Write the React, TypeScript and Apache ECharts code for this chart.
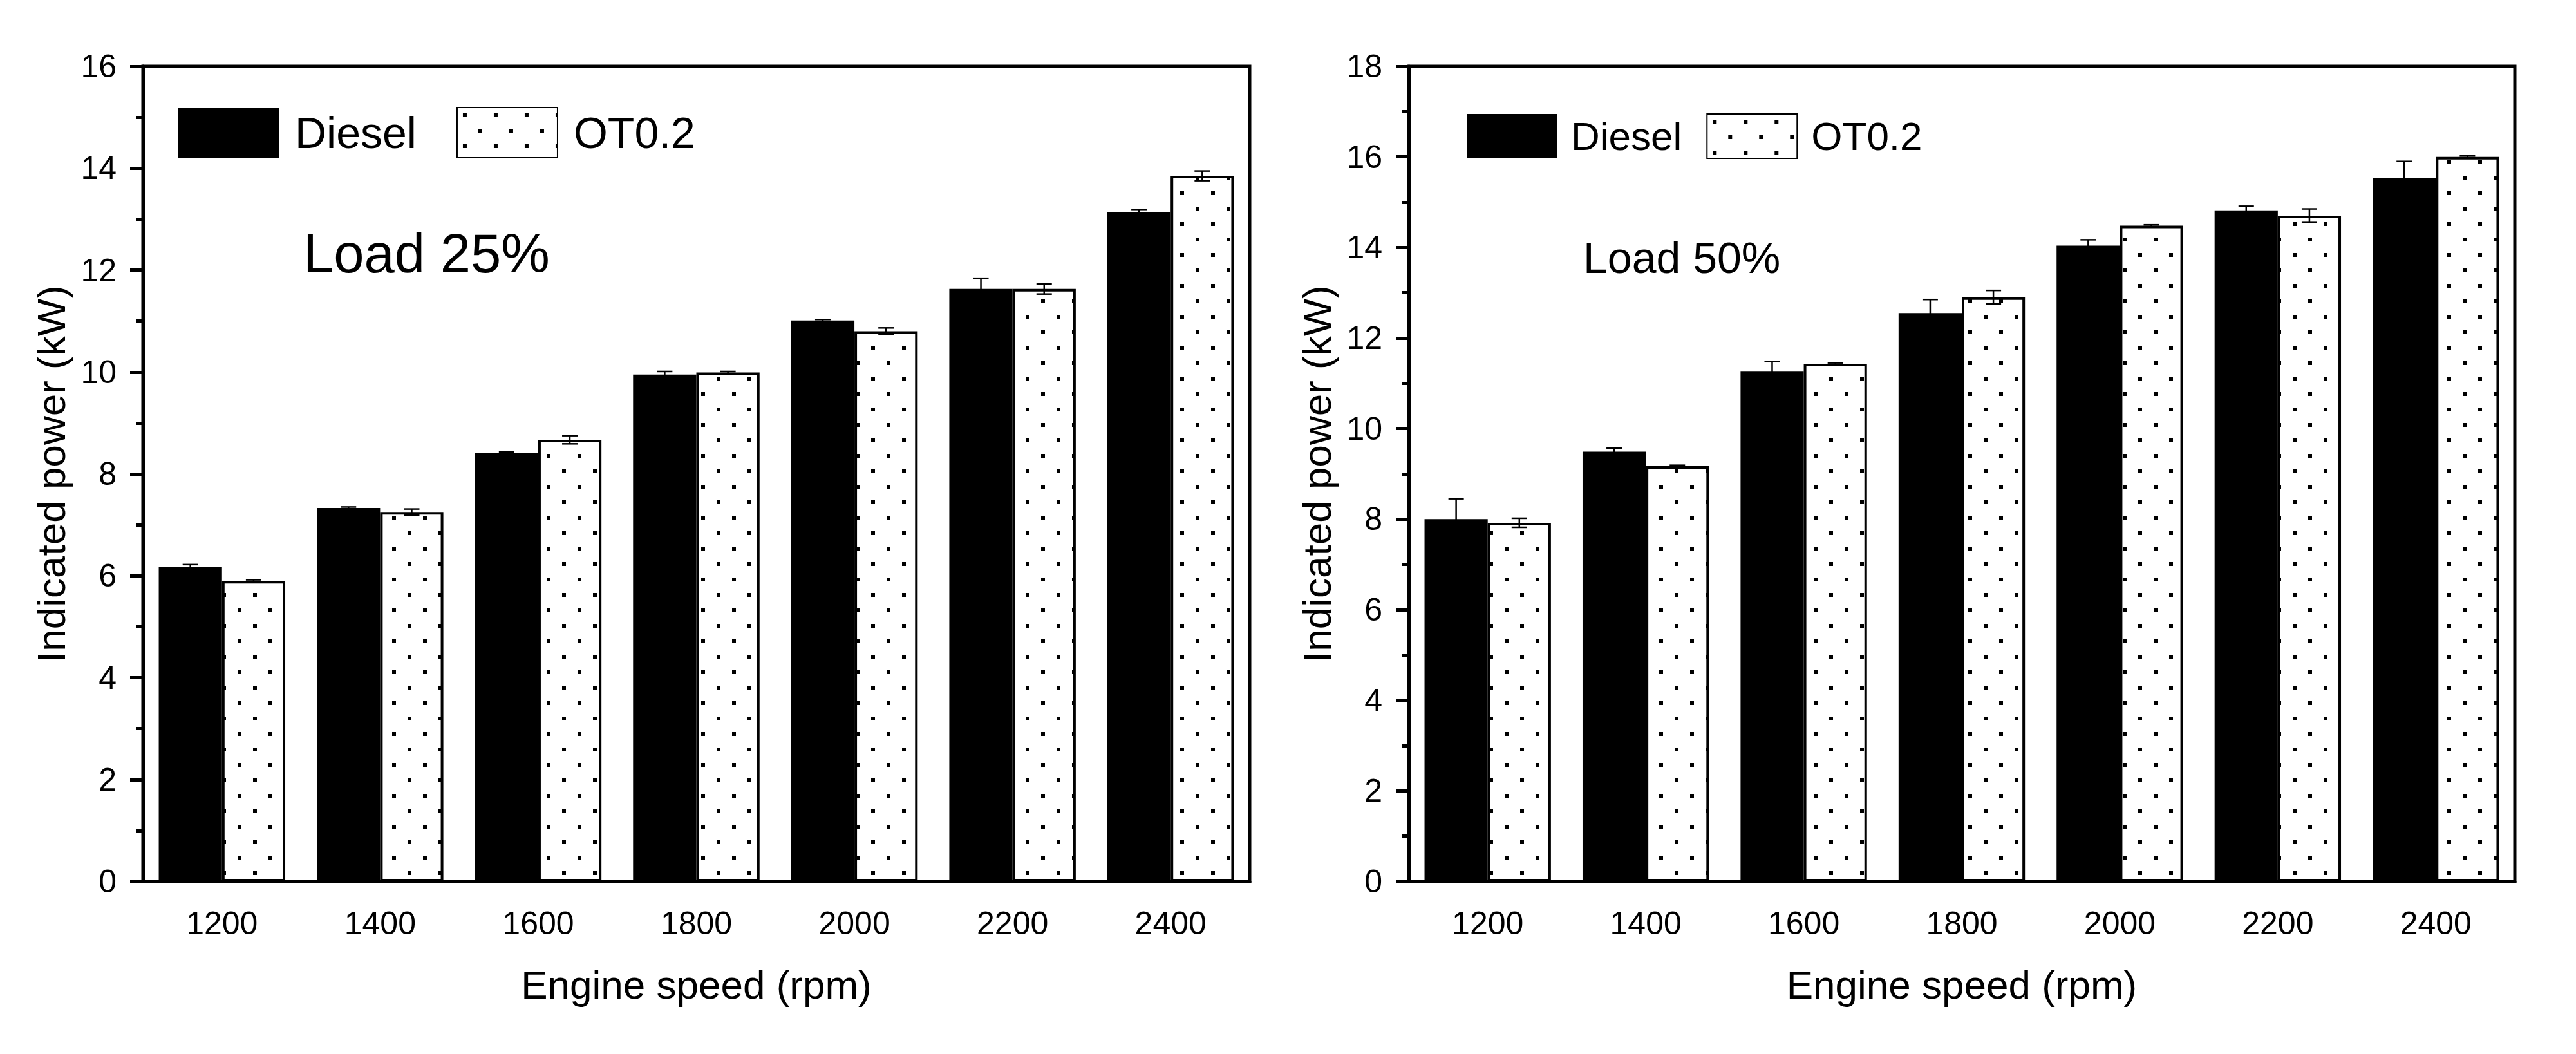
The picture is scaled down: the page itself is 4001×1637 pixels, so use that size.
import { useEffect, useRef } from 'react';
import * as echarts from 'echarts';

const categories = ['1200', '1400', '1600', '1800', '2000', '2200', '2400'];

// Load 25%
const diesel25 = [6.17, 7.33, 8.41, 9.95, 11.01, 11.63, 13.14];
const diesel25Err = [0.05, 0.02, 0.02, 0.06, 0.02, 0.21, 0.05];
const ot25 = [5.9, 7.25, 8.67, 9.99, 10.8, 11.63, 13.85];
const ot25Err = [0.02, 0.06, 0.08, 0.02, 0.065, 0.1, 0.095];

// Load 50%
const diesel50 = [8.0, 9.49, 11.27, 12.55, 14.04, 14.82, 15.53];
const diesel50Err = [0.45, 0.08, 0.21, 0.3, 0.13, 0.09, 0.37];
const ot50 = [7.92, 9.17, 11.43, 12.9, 14.48, 14.7, 16.0];
const ot50Err = [0.1, 0.02, 0.02, 0.15, 0.02, 0.15, 0.02];

const FONT = '"Liberation Sans", Arial, sans-serif';

export default function App() {
  const chartRef = useRef<HTMLDivElement>(null);

  useEffect(() => {
    if (!chartRef.current) return;
    const chart = echarts.init(chartRef.current, null, { renderer: 'svg' });

    // dotted fill like Origin's pattern
    const tile = document.createElement('canvas');
    tile.width = 48;
    tile.height = 48;
    const ctx = tile.getContext('2d')!;
    ctx.fillStyle = '#fff';
    ctx.fillRect(0, 0, 48, 48);
    ctx.fillStyle = '#000';
    ctx.fillRect(9, 9, 6, 6);
    ctx.fillRect(33, 33, 6, 6);
    const dots: any = { image: tile, repeat: 'repeat', imageWidth: 48, imageHeight: 48 };

    const errBar = (side: number) => (params: any, api: any) => {
      const idx = api.value(0);
      const v = api.value(1);
      const e = api.value(2);
      const band = api.size([1, 0])[0];
      const x = api.coord([idx, v])[0] + side * band * 0.2;
      const top = api.coord([idx, v + e])[1];
      const bot = api.coord([idx, v - e])[1];
      const st = { stroke: '#000', lineWidth: 2.5 };
      return {
        type: 'group',
        children: [
          { type: 'line', shape: { x1: x, y1: top, x2: x, y2: bot }, style: st },
          { type: 'line', shape: { x1: x - 12, y1: top, x2: x + 12, y2: top }, style: st },
          { type: 'line', shape: { x1: x - 12, y1: bot, x2: x + 12, y2: bot }, style: st },
        ],
      };
    };

    const seriesFor = (g: number, d: number[], dErr: number[], o: number[], oErr: number[]) => [
      {
        name: 'Diesel',
        type: 'bar',
        xAxisIndex: g,
        yAxisIndex: g,
        data: d,
        barWidth: '40%',
        barGap: '0%',
        itemStyle: { color: '#000' },
      },
      {
        name: 'OT0.2',
        type: 'bar',
        xAxisIndex: g,
        yAxisIndex: g,
        data: o,
        barWidth: '40%',
        barGap: '0%',
        itemStyle: { color: dots, borderColor: '#000', borderWidth: 4 },
      },
      {
        name: 'Diesel error',
        type: 'custom',
        xAxisIndex: g,
        yAxisIndex: g,
        renderItem: errBar(-1),
        data: d.map((v, i) => [i, v, dErr[i]]),
        z: 5,
      },
      {
        name: 'OT0.2 error',
        type: 'custom',
        xAxisIndex: g,
        yAxisIndex: g,
        renderItem: errBar(1),
        data: o.map((v, i) => [i, v, oErr[i]]),
        z: 5,
      },
    ];

    const xAxisFor = (g: number) => ({
      type: 'category',
      gridIndex: g,
      data: categories,
      name: 'Engine speed (rpm)',
      nameLocation: 'middle',
      nameGap: 129,
      nameTextStyle: { fontSize: 62, fontFamily: FONT, color: '#000' },
      axisLine: { lineStyle: { color: '#000', width: 5 } },
      axisTick: { alignWithLabel: true, length: 26, lineStyle: { width: 5, color: '#000' } },
      axisLabel: { fontSize: 50, fontFamily: FONT, color: '#000', margin: 40 },
      splitLine: { show: false },
    });

    const yAxisFor = (g: number, max: number) => ({
      type: 'value',
      gridIndex: g,
      min: 0,
      max,
      interval: 2,
      name: 'Indicated power (kW)',
      nameLocation: 'middle',
      nameGap: 112,
      nameTextStyle: { fontSize: 62, fontFamily: FONT, color: '#000' },
      axisLine: { show: true, lineStyle: { color: '#000', width: 5 } },
      axisTick: { show: true, length: 20, lineStyle: { width: 5, color: '#000' } },
      minorTick: { show: true, splitNumber: 2, length: 10, lineStyle: { width: 5, color: '#000' } },
      axisLabel: { fontSize: 50, fontFamily: FONT, color: '#000', margin: 41 },
      splitLine: { show: false },
    });

    const legendFor = (left: number, top: number, w: number, h: number, gap: number, fs: number, pad: number) => ({
      left,
      top,
      orient: 'horizontal',
      icon: 'rect',
      itemWidth: w,
      itemHeight: h,
      itemGap: gap,
      selectedMode: false,
      data: ['Diesel', 'OT0.2'],
      textStyle: { fontSize: fs, fontFamily: FONT, color: '#000', padding: [0, 0, 0, pad] },
    });

    chart.setOption({
      animation: false,
      backgroundColor: '#fff',
      grid: [
        { left: 222, top: 103, width: 1719, height: 1266, show: true, borderColor: '#000', borderWidth: 5 },
        { left: 2188, top: 103, width: 1718, height: 1266, show: true, borderColor: '#000', borderWidth: 5 },
      ],
      xAxis: [xAxisFor(0), xAxisFor(1)],
      yAxis: [yAxisFor(0, 16), yAxisFor(1, 18)],
      legend: [
        legendFor(272, 161, 156, 78, 62, 68, 20),
        legendFor(2273, 171, 140, 69, 38, 62, 17),
      ],
      graphic: [
        {
          type: 'text',
          x: 471,
          y: 393,
          style: { text: 'Load 25%', fontSize: 85, fontFamily: FONT, fill: '#000', align: 'left', verticalAlign: 'middle' },
        },
        {
          type: 'text',
          x: 2459,
          y: 400,
          style: { text: 'Load 50%', fontSize: 68, fontFamily: FONT, fill: '#000', align: 'left', verticalAlign: 'middle' },
        },
      ],
      series: [
        ...seriesFor(0, diesel25, diesel25Err, ot25, ot25Err),
        ...seriesFor(1, diesel50, diesel50Err, ot50, ot50Err),
      ],
    } as any);

    return () => {
      chart.dispose();
    };
  }, []);

  return (
    <div
      ref={chartRef}
      style={{ position: 'fixed', left: 0, top: 0, width: '4001px', height: '1637px' }}
    ></div>
  );
}
